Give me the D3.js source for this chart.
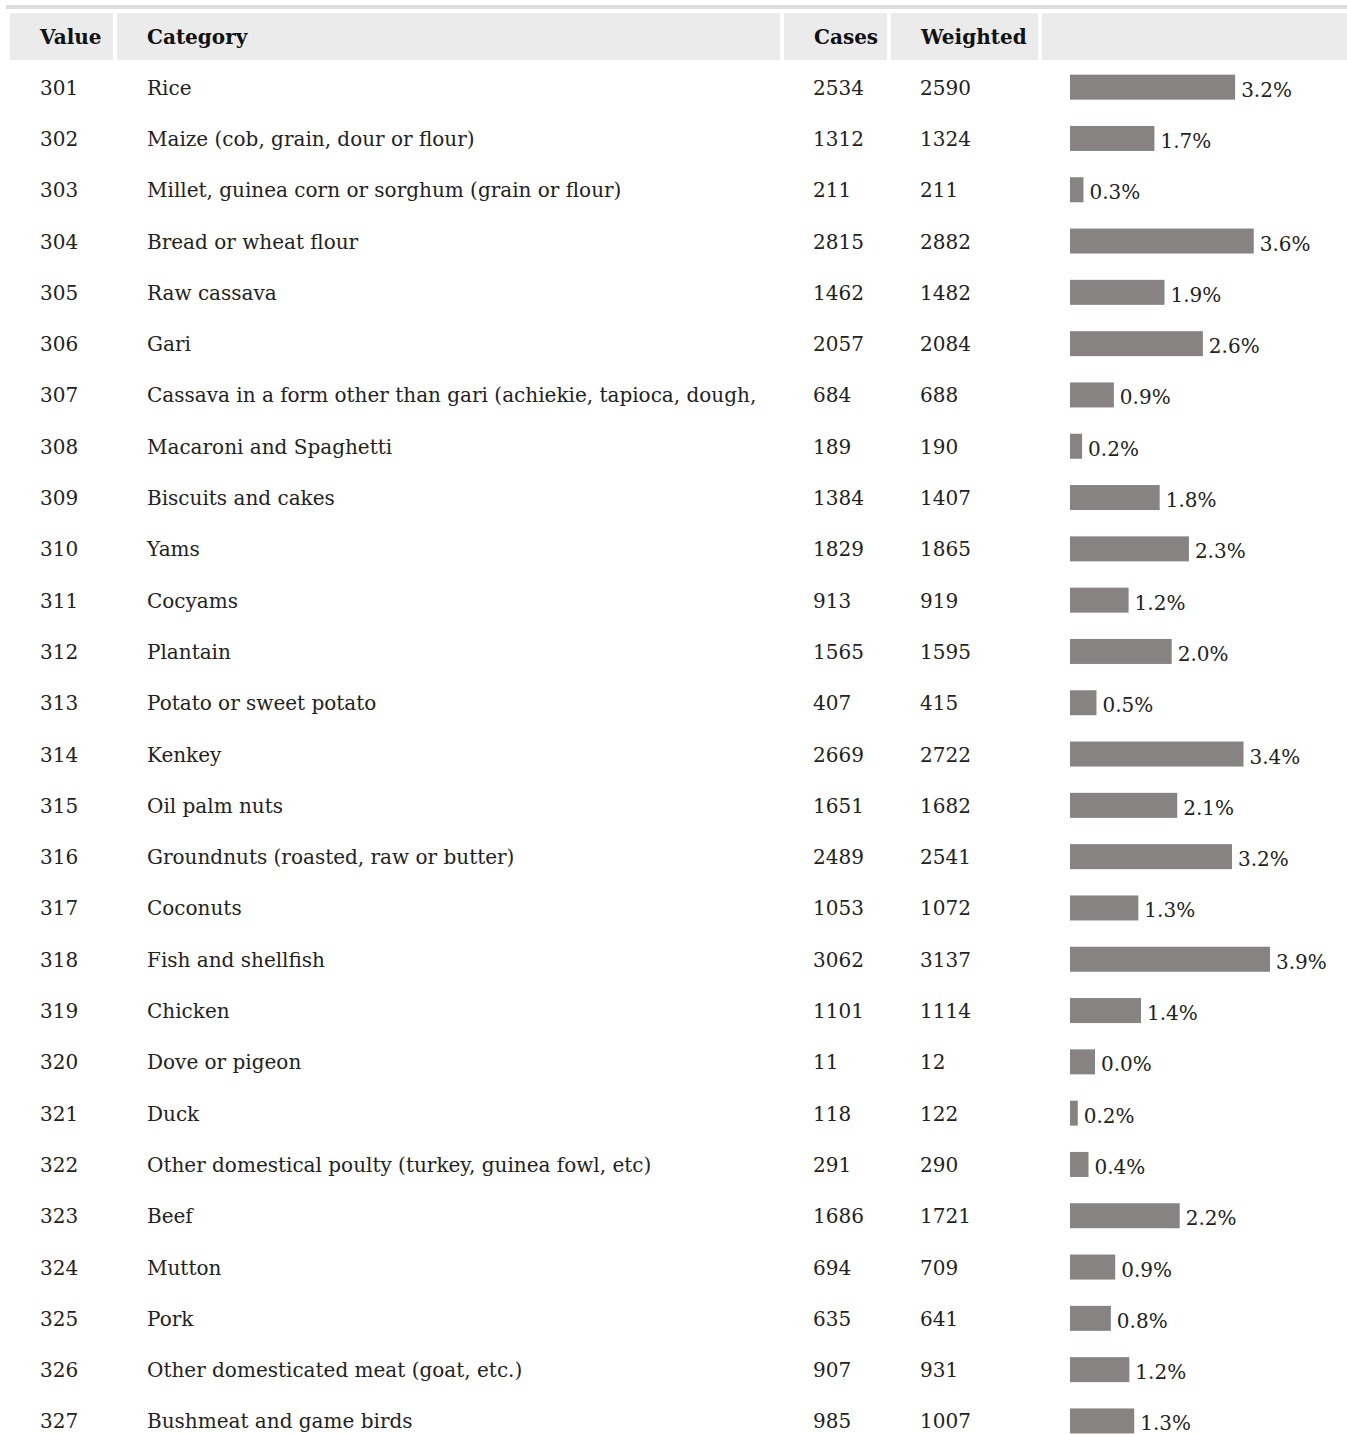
<!DOCTYPE html>
<html>
<head>
<meta charset="utf-8">
<script src="https://cdn.jsdelivr.net/npm/d3@7"></script>
<style>
  html, body { margin: 0; padding: 0; background: #fff; }
  svg { display: block; font-family: "DejaVu Serif", "Liberation Serif", serif; }
</style>
</head>
<body>
<div id="chart"></div>
<script>
"use strict";

const codes = [301, 302, 303, 304, 305, 306, 307, 308, 309, 310, 311, 312, 313,
  314, 315, 316, 317, 318, 319, 320, 321, 322, 323, 324, 325, 326, 327];

const categories = [
  "Rice",
  "Maize (cob, grain, dour or flour)",
  "Millet, guinea corn or sorghum (grain or flour)",
  "Bread or wheat flour",
  "Raw cassava",
  "Gari",
  "Cassava in a form other than gari (achiekie, tapioca, dough,",
  "Macaroni and Spaghetti",
  "Biscuits and cakes",
  "Yams",
  "Cocyams",
  "Plantain",
  "Potato or sweet potato",
  "Kenkey",
  "Oil palm nuts",
  "Groundnuts (roasted, raw or butter)",
  "Coconuts",
  "Fish and shellfish",
  "Chicken",
  "Dove or pigeon",
  "Duck",
  "Other domestical poulty (turkey, guinea fowl, etc)",
  "Beef",
  "Mutton",
  "Pork",
  "Other domesticated meat (goat, etc.)",
  "Bushmeat and game birds",
];

const cases = [2534, 1312, 211, 2815, 1462, 2057, 684, 189, 1384, 1829, 913, 1565, 407,
  2669, 1651, 2489, 1053, 3062, 1101, 11, 118, 291, 1686, 694, 635, 907, 985];

const weighted = [2590, 1324, 211, 2882, 1482, 2084, 688, 190, 1407, 1865, 919, 1595, 415,
  2722, 1682, 2541, 1072, 3137, 1114, 12, 122, 290, 1721, 709, 641, 931, 1007];

const percents = [3.2, 1.7, 0.3, 3.6, 1.9, 2.6, 0.9, 0.2, 1.8, 2.3, 1.2, 2.0, 0.5,
  3.4, 2.1, 3.2, 1.3, 3.9, 1.4, 0.0, 0.2, 0.4, 2.2, 0.9, 0.8, 1.2, 1.3];

const headers = ["Value", "Category", "Cases", "Weighted", ""];

(function renderTable() {
  const width = 1347;
  const height = 1434;
  const tableLeft = 10;
  const headerTop = 13;
  const headerHeight = 47;
  const rowTop = 62;
  const rowHeight = 51.3;
  const cellGap = 4;
  const cellPad = 30;
  const barHeight = 24;
  const barColor = "#878382";
  const textColor = "#222";
  const fontSize = 20;

  // column edges, left side of each cell
  const colEdges = [tableLeft, 117, 784, 891, 1042, width];

  const rows = codes.map((code, i) => ({
    code,
    category: categories[i],
    cases: cases[i],
    weighted: weighted[i],
    pct: percents[i],
  }));

  const svg = d3.select("#chart")
    .append("svg")
    .attr("width", width)
    .attr("height", height)
    .attr("viewBox", `0 0 ${width} ${height}`);

  svg.append("rect")
    .attr("x", 6)
    .attr("y", 5)
    .attr("width", width - 6)
    .attr("height", 4)
    .attr("fill", "#dedede");

  const y = d3.scaleBand()
    .domain(rows.map((row) => row.code))
    .range([rowTop, rowTop + rowHeight * rows.length]);

  const barX = d3.scaleLinear()
    .domain([0, d3.max(rows, (row) => row.weighted)])
    .range([0, 200]);

  const head = svg.append("g").attr("class", "header");

  head.selectAll("rect")
    .data(headers)
    .join("rect")
    .attr("x", (_, i) => colEdges[i])
    .attr("y", headerTop)
    .attr("width", (_, i) => colEdges[i + 1] - colEdges[i] - (i < headers.length - 1 ? cellGap : 0))
    .attr("height", headerHeight)
    .attr("fill", "#ebebeb");

  head.selectAll("text")
    .data(headers)
    .join("text")
    .attr("x", (_, i) => colEdges[i] + cellPad)
    .attr("y", headerTop + headerHeight / 2)
    .attr("dy", "0.35em")
    .attr("font-size", fontSize)
    .attr("font-weight", 700)
    .attr("fill", "#111")
    .text((d) => d);

  const body = svg.append("g").attr("class", "body");

  const row = body.selectAll("g.row")
    .data(rows, (d) => d.code)
    .join("g")
    .attr("class", "row")
    .attr("transform", (d) => `translate(0,${y(d.code) + y.bandwidth() / 2})`);

  const cols = [
    (d) => d.code,
    (d) => d.category,
    (d) => d.cases,
    (d) => d.weighted,
  ];

  cols.forEach((accessor, i) => {
    row.append("text")
      .attr("x", colEdges[i] + cellPad - (i >= 2 ? 1 : 0))
      .attr("dy", "0.35em")
      .attr("font-size", fontSize)
      .attr("fill", textColor)
      .text(accessor);
  });

  const barLeft = colEdges[4] + 28;

  // zero-percent rows still get a square marker, as in the source
  const barWidth = (d) => (d.pct === 0 ? barHeight + 1 : barX(d.weighted));

  row.append("rect")
    .attr("x", barLeft)
    .attr("y", -13)
    .attr("width", barWidth)
    .attr("height", barHeight + 1)
    .attr("fill", barColor);

  row.append("text")
    .attr("x", (d) => barLeft + barWidth(d) + 6)
    .attr("y", 2)
    .attr("dy", "0.35em")
    .attr("font-size", fontSize)
    .attr("fill", textColor)
    .text((d) => `${d.pct.toFixed(1)}%`);
})();
</script>
</body>
</html>
